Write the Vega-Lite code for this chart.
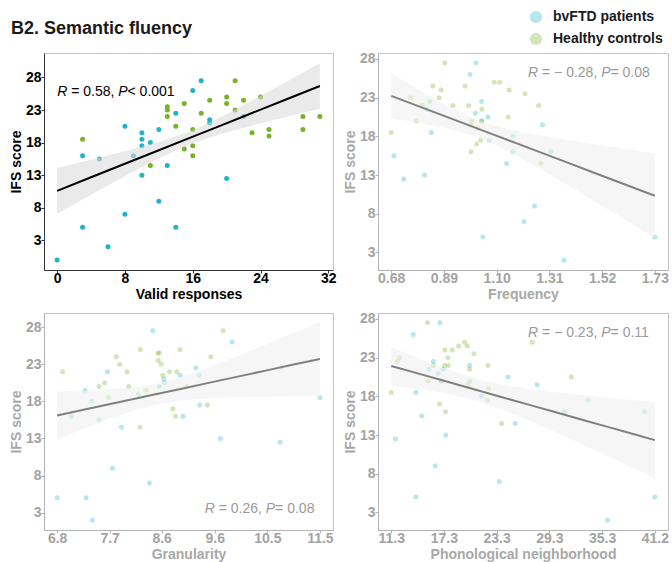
{
  "$schema": "https://vega.github.io/schema/vega-lite/v6.json",
  "padding": {"left": 8, "top": 10, "right": 0, "bottom": 0},
  "background": "white",
  "title": {"text": "B2. Semantic fluency", "anchor": "start", "frame": "bounds", "fontSize": 18, "fontWeight": "bold", "font": "Liberation Sans", "color": "#1a1a1a", "offset": -28, "dx": 2},
  "datasets": {
    "vr": [
      {"group": "bvFTD patients", "x": 0, "y": 0}, {"group": "bvFTD patients", "x": 3, "y": 5}, {"group": "bvFTD patients", "x": 3, "y": 16}, {"group": "bvFTD patients", "x": 5, "y": 15.5},
      {"group": "bvFTD patients", "x": 6, "y": 2}, {"group": "bvFTD patients", "x": 8, "y": 20.5}, {"group": "bvFTD patients", "x": 8, "y": 7}, {"group": "bvFTD patients", "x": 9, "y": 16},
      {"group": "bvFTD patients", "x": 10, "y": 19.5}, {"group": "bvFTD patients", "x": 10, "y": 18.5}, {"group": "bvFTD patients", "x": 10, "y": 17.5}, {"group": "bvFTD patients", "x": 10, "y": 13},
      {"group": "bvFTD patients", "x": 11, "y": 18}, {"group": "bvFTD patients", "x": 12, "y": 20}, {"group": "bvFTD patients", "x": 12, "y": 9}, {"group": "bvFTD patients", "x": 13, "y": 14.5},
      {"group": "bvFTD patients", "x": 14, "y": 22.5}, {"group": "bvFTD patients", "x": 14, "y": 5}, {"group": "bvFTD patients", "x": 16, "y": 26}, {"group": "bvFTD patients", "x": 17, "y": 27.5},
      {"group": "bvFTD patients", "x": 18, "y": 21.5}, {"group": "bvFTD patients", "x": 18, "y": 21}, {"group": "bvFTD patients", "x": 20, "y": 12.5}, {"group": "bvFTD patients", "x": 22, "y": 22},
      {"group": "Healthy controls", "x": 3, "y": 18.5}, {"group": "Healthy controls", "x": 11, "y": 14.5}, {"group": "Healthy controls", "x": 13, "y": 23.5}, {"group": "Healthy controls", "x": 13, "y": 23},
      {"group": "Healthy controls", "x": 13, "y": 22}, {"group": "Healthy controls", "x": 14, "y": 20.5}, {"group": "Healthy controls", "x": 15, "y": 24}, {"group": "Healthy controls", "x": 15, "y": 17},
      {"group": "Healthy controls", "x": 16, "y": 20}, {"group": "Healthy controls", "x": 16, "y": 17.5}, {"group": "Healthy controls", "x": 16, "y": 16}, {"group": "Healthy controls", "x": 17, "y": 22.5},
      {"group": "Healthy controls", "x": 18, "y": 24.5}, {"group": "Healthy controls", "x": 20, "y": 25}, {"group": "Healthy controls", "x": 20, "y": 24}, {"group": "Healthy controls", "x": 21, "y": 27.5},
      {"group": "Healthy controls", "x": 21, "y": 23}, {"group": "Healthy controls", "x": 22, "y": 24.5}, {"group": "Healthy controls", "x": 23, "y": 19.5}, {"group": "Healthy controls", "x": 24, "y": 25},
      {"group": "Healthy controls", "x": 25, "y": 20}, {"group": "Healthy controls", "x": 25, "y": 19}, {"group": "Healthy controls", "x": 29, "y": 22}, {"group": "Healthy controls", "x": 29, "y": 20},
      {"group": "Healthy controls", "x": 31, "y": 22}
    ],
    "vr_fit": [
      {"x": 0, "fit": 10.6, "lo": 7.1, "hi": 14.1}, {"x": 4, "fit": 12.68, "lo": 10.0, "hi": 15.36}, {"x": 8, "fit": 14.75, "lo": 12.84, "hi": 16.66},
      {"x": 12, "fit": 16.83, "lo": 15.58, "hi": 18.08}, {"x": 15.5, "fit": 18.64, "lo": 17.64, "hi": 19.64}, {"x": 19, "fit": 20.46, "lo": 19.21, "hi": 21.71},
      {"x": 23, "fit": 22.54, "lo": 20.63, "hi": 24.45}, {"x": 27, "fit": 24.61, "lo": 21.93, "hi": 27.29}, {"x": 31, "fit": 26.69, "lo": 23.19, "hi": 30.19}
    ],
    "fr": [
      {"group": "bvFTD patients", "x": 0.691, "y": 15.5}, {"group": "bvFTD patients", "x": 0.73, "y": 12.5}, {"group": "bvFTD patients", "x": 0.823, "y": 21.5}, {"group": "bvFTD patients", "x": 0.84, "y": 18.5},
      {"group": "bvFTD patients", "x": 0.813, "y": 13}, {"group": "bvFTD patients", "x": 0.994, "y": 26}, {"group": "bvFTD patients", "x": 1.018, "y": 27.5}, {"group": "bvFTD patients", "x": 1.015, "y": 21},
      {"group": "bvFTD patients", "x": 1.04, "y": 20}, {"group": "bvFTD patients", "x": 1.04, "y": 22.5}, {"group": "bvFTD patients", "x": 1.065, "y": 20.5}, {"group": "bvFTD patients", "x": 1.07, "y": 17.5},
      {"group": "bvFTD patients", "x": 1.045, "y": 5}, {"group": "bvFTD patients", "x": 1.165, "y": 18}, {"group": "bvFTD patients", "x": 1.165, "y": 16}, {"group": "bvFTD patients", "x": 1.14, "y": 14.5},
      {"group": "bvFTD patients", "x": 1.209, "y": 7}, {"group": "bvFTD patients", "x": 1.251, "y": 9}, {"group": "bvFTD patients", "x": 1.283, "y": 19.5}, {"group": "bvFTD patients", "x": 1.315, "y": 16},
      {"group": "bvFTD patients", "x": 1.368, "y": 2}, {"group": "bvFTD patients", "x": 1.73, "y": 5},
      {"group": "Healthy controls", "x": 0.68, "y": 18.5}, {"group": "Healthy controls", "x": 0.757, "y": 23}, {"group": "Healthy controls", "x": 0.78, "y": 20}, {"group": "Healthy controls", "x": 0.804, "y": 22},
      {"group": "Healthy controls", "x": 0.834, "y": 22.5}, {"group": "Healthy controls", "x": 0.846, "y": 24.5}, {"group": "Healthy controls", "x": 0.871, "y": 23}, {"group": "Healthy controls", "x": 0.879, "y": 24},
      {"group": "Healthy controls", "x": 0.894, "y": 27.5}, {"group": "Healthy controls", "x": 0.926, "y": 22}, {"group": "Healthy controls", "x": 0.974, "y": 24.5}, {"group": "Healthy controls", "x": 0.988, "y": 22},
      {"group": "Healthy controls", "x": 0.996, "y": 19.5}, {"group": "Healthy controls", "x": 1.002, "y": 20}, {"group": "Healthy controls", "x": 0.998, "y": 16}, {"group": "Healthy controls", "x": 1.02, "y": 17},
      {"group": "Healthy controls", "x": 1.036, "y": 17.5}, {"group": "Healthy controls", "x": 1.026, "y": 19}, {"group": "Healthy controls", "x": 1.04, "y": 20}, {"group": "Healthy controls", "x": 1.041, "y": 21.5},
      {"group": "Healthy controls", "x": 1.09, "y": 25}, {"group": "Healthy controls", "x": 1.112, "y": 25}, {"group": "Healthy controls", "x": 1.15, "y": 24}, {"group": "Healthy controls", "x": 1.146, "y": 20.5},
      {"group": "Healthy controls", "x": 1.213, "y": 23.5}, {"group": "Healthy controls", "x": 1.267, "y": 22}, {"group": "Healthy controls", "x": 1.275, "y": 14.5}
    ],
    "fr_fit": [
      {"x": 0.68, "fit": 23.24, "lo": 20.34, "hi": 26.14}, {"x": 0.78, "fit": 22.01, "lo": 19.8, "hi": 24.22}, {"x": 0.88, "fit": 20.78, "lo": 19.18, "hi": 22.38},
      {"x": 0.98, "fit": 19.55, "lo": 18.37, "hi": 20.73}, {"x": 1.03, "fit": 18.94, "lo": 17.83, "hi": 20.05}, {"x": 1.08, "fit": 18.32, "lo": 17.14, "hi": 19.5},
      {"x": 1.18, "fit": 17.09, "lo": 15.49, "hi": 18.69}, {"x": 1.28, "fit": 15.86, "lo": 13.65, "hi": 18.07}, {"x": 1.38, "fit": 14.63, "lo": 11.73, "hi": 17.53},
      {"x": 1.48, "fit": 13.4, "lo": 9.78, "hi": 17.02}, {"x": 1.58, "fit": 12.17, "lo": 7.82, "hi": 16.52}, {"x": 1.73, "fit": 10.33, "lo": 4.86, "hi": 15.8}
    ],
    "gr": [
      {"group": "bvFTD patients", "x": 6.77, "y": 5}, {"group": "bvFTD patients", "x": 7.02, "y": 16}, {"group": "bvFTD patients", "x": 7.27, "y": 19.5}, {"group": "bvFTD patients", "x": 7.29, "y": 5},
      {"group": "bvFTD patients", "x": 7.39, "y": 18}, {"group": "bvFTD patients", "x": 7.4, "y": 2}, {"group": "bvFTD patients", "x": 7.52, "y": 15.5}, {"group": "bvFTD patients", "x": 7.67, "y": 22},
      {"group": "bvFTD patients", "x": 7.76, "y": 9}, {"group": "bvFTD patients", "x": 7.92, "y": 14.5}, {"group": "bvFTD patients", "x": 8.42, "y": 7}, {"group": "bvFTD patients", "x": 8.48, "y": 27.5},
      {"group": "bvFTD patients", "x": 8.6, "y": 20}, {"group": "bvFTD patients", "x": 8.68, "y": 21}, {"group": "bvFTD patients", "x": 8.69, "y": 20.5}, {"group": "bvFTD patients", "x": 8.97, "y": 21.5},
      {"group": "bvFTD patients", "x": 9.02, "y": 16}, {"group": "bvFTD patients", "x": 9.25, "y": 22.5}, {"group": "bvFTD patients", "x": 9.31, "y": 21.5}, {"group": "bvFTD patients", "x": 9.32, "y": 17.5},
      {"group": "bvFTD patients", "x": 9.69, "y": 13}, {"group": "bvFTD patients", "x": 9.9, "y": 26}, {"group": "bvFTD patients", "x": 10.76, "y": 12.5}, {"group": "bvFTD patients", "x": 11.47, "y": 18.5},
      {"group": "Healthy controls", "x": 6.87, "y": 22}, {"group": "Healthy controls", "x": 7.52, "y": 20}, {"group": "Healthy controls", "x": 7.62, "y": 20.5}, {"group": "Healthy controls", "x": 7.69, "y": 18.5},
      {"group": "Healthy controls", "x": 7.83, "y": 24}, {"group": "Healthy controls", "x": 7.89, "y": 23}, {"group": "Healthy controls", "x": 8.02, "y": 22}, {"group": "Healthy controls", "x": 8.05, "y": 20},
      {"group": "Healthy controls", "x": 8.22, "y": 19}, {"group": "Healthy controls", "x": 8.25, "y": 14.5}, {"group": "Healthy controls", "x": 8.26, "y": 25}, {"group": "Healthy controls", "x": 8.36, "y": 19.5},
      {"group": "Healthy controls", "x": 8.57, "y": 24.5}, {"group": "Healthy controls", "x": 8.6, "y": 24.5}, {"group": "Healthy controls", "x": 8.58, "y": 23.5}, {"group": "Healthy controls", "x": 8.63, "y": 23},
      {"group": "Healthy controls", "x": 8.66, "y": 21.5}, {"group": "Healthy controls", "x": 8.78, "y": 22}, {"group": "Healthy controls", "x": 8.84, "y": 17}, {"group": "Healthy controls", "x": 8.89, "y": 16},
      {"group": "Healthy controls", "x": 8.91, "y": 22}, {"group": "Healthy controls", "x": 8.97, "y": 25}, {"group": "Healthy controls", "x": 9.08, "y": 20}, {"group": "Healthy controls", "x": 9.46, "y": 17.5},
      {"group": "Healthy controls", "x": 9.52, "y": 24}, {"group": "Healthy controls", "x": 9.74, "y": 27.5}, {"group": "Healthy controls", "x": 10.79, "y": 22.5}
    ],
    "gr_fit": [
      {"x": 6.77, "fit": 16.1, "lo": 12.85, "hi": 19.35}, {"x": 7.2, "fit": 16.8, "lo": 14.17, "hi": 19.43}, {"x": 7.7, "fit": 17.61, "lo": 15.63, "hi": 19.59},
      {"x": 8.2, "fit": 18.42, "lo": 16.91, "hi": 19.93}, {"x": 8.55, "fit": 18.98, "lo": 17.58, "hi": 20.38}, {"x": 9.0, "fit": 19.71, "lo": 18.13, "hi": 21.29},
      {"x": 9.5, "fit": 20.52, "lo": 18.42, "hi": 22.62}, {"x": 10.0, "fit": 21.33, "lo": 18.56, "hi": 24.1}, {"x": 10.5, "fit": 22.14, "lo": 18.64, "hi": 25.64},
      {"x": 11.0, "fit": 22.95, "lo": 18.68, "hi": 27.22}, {"x": 11.47, "fit": 23.71, "lo": 18.7, "hi": 28.72}
    ],
    "ph": [
      {"group": "bvFTD patients", "x": 11.79, "y": 12.5}, {"group": "bvFTD patients", "x": 13.8, "y": 26}, {"group": "bvFTD patients", "x": 14.1, "y": 18.5}, {"group": "bvFTD patients", "x": 14.1, "y": 5},
      {"group": "bvFTD patients", "x": 14.79, "y": 15.5}, {"group": "bvFTD patients", "x": 15.58, "y": 21.5}, {"group": "bvFTD patients", "x": 16.1, "y": 22.5}, {"group": "bvFTD patients", "x": 16.3, "y": 9},
      {"group": "bvFTD patients", "x": 16.64, "y": 21}, {"group": "bvFTD patients", "x": 16.84, "y": 27.5}, {"group": "bvFTD patients", "x": 16.99, "y": 20}, {"group": "bvFTD patients", "x": 17.21, "y": 21.5},
      {"group": "bvFTD patients", "x": 17.5, "y": 13}, {"group": "bvFTD patients", "x": 20.2, "y": 22}, {"group": "bvFTD patients", "x": 21.57, "y": 18}, {"group": "bvFTD patients", "x": 23.58, "y": 7},
      {"group": "bvFTD patients", "x": 24.57, "y": 20.5}, {"group": "bvFTD patients", "x": 25.4, "y": 14.5}, {"group": "bvFTD patients", "x": 27.87, "y": 19.5}, {"group": "bvFTD patients", "x": 31.01, "y": 16},
      {"group": "bvFTD patients", "x": 33.66, "y": 17.5}, {"group": "bvFTD patients", "x": 35.86, "y": 2}, {"group": "bvFTD patients", "x": 40.07, "y": 16}, {"group": "bvFTD patients", "x": 41.25, "y": 5},
      {"group": "Healthy controls", "x": 11.3, "y": 18.5}, {"group": "Healthy controls", "x": 11.98, "y": 22.5}, {"group": "Healthy controls", "x": 12.25, "y": 23}, {"group": "Healthy controls", "x": 15.43, "y": 27.5},
      {"group": "Healthy controls", "x": 15.5, "y": 20}, {"group": "Healthy controls", "x": 16.08, "y": 22}, {"group": "Healthy controls", "x": 16.8, "y": 17}, {"group": "Healthy controls", "x": 17.0, "y": 20},
      {"group": "Healthy controls", "x": 17.4, "y": 24}, {"group": "Healthy controls", "x": 17.36, "y": 22}, {"group": "Healthy controls", "x": 17.48, "y": 16}, {"group": "Healthy controls", "x": 17.74, "y": 23},
      {"group": "Healthy controls", "x": 17.78, "y": 22}, {"group": "Healthy controls", "x": 18.24, "y": 24}, {"group": "Healthy controls", "x": 18.96, "y": 24.5}, {"group": "Healthy controls", "x": 19.64, "y": 25},
      {"group": "Healthy controls", "x": 19.94, "y": 24.5}, {"group": "Healthy controls", "x": 20.02, "y": 19.5}, {"group": "Healthy controls", "x": 20.2, "y": 20}, {"group": "Healthy controls", "x": 20.2, "y": 21.5},
      {"group": "Healthy controls", "x": 20.7, "y": 23.5}, {"group": "Healthy controls", "x": 22.29, "y": 22}, {"group": "Healthy controls", "x": 22.37, "y": 19}, {"group": "Healthy controls", "x": 22.26, "y": 17.5},
      {"group": "Healthy controls", "x": 23.85, "y": 14.5}, {"group": "Healthy controls", "x": 27.33, "y": 25}, {"group": "Healthy controls", "x": 31.77, "y": 20.5}
    ],
    "ph_fit": [
      {"x": 11.3, "fit": 21.93, "lo": 19.4, "hi": 24.46}, {"x": 14, "fit": 21.07, "lo": 19.02, "hi": 23.12}, {"x": 17, "fit": 20.11, "lo": 18.49, "hi": 21.73},
      {"x": 20.5, "fit": 18.99, "lo": 17.58, "hi": 20.4}, {"x": 24, "fit": 17.86, "lo": 16.24, "hi": 19.48}, {"x": 27, "fit": 16.9, "lo": 14.85, "hi": 18.95},
      {"x": 30, "fit": 15.94, "lo": 13.35, "hi": 18.53}, {"x": 33, "fit": 14.98, "lo": 11.8, "hi": 18.16}, {"x": 36, "fit": 14.02, "lo": 10.21, "hi": 17.83},
      {"x": 39, "fit": 13.06, "lo": 8.61, "hi": 17.51}, {"x": 41.25, "fit": 12.34, "lo": 7.4, "hi": 17.28}
    ]
  },
  "columns": 2,
  "spacing": {"row": 43, "column": 45},
  "bounds": "flush",
  "resolve": {"scale": {"color": "shared"}, "legend": {"color": "shared"}},
  "concat": [
    {
      "width": 289, "height": 217,
      "layer": [
        {
          "data": {"name": "vr"},
          "mark": {"type": "circle", "size": 25, "opacity": 1},
          "encoding": {
            "x": {"field": "x", "type": "quantitative", "title": "Valid responses", "scale": {"domain": [-1.55, 32.55], "nice": false, "zero": false},
                  "axis": {"values": [0, 8, 16, 24, 32], "labelColor": "#000000", "titleColor": "#000000", "domainColor": "#333333", "tickColor": "#333333"}},
            "y": {"field": "y", "type": "quantitative", "title": "IFS score", "scale": {"domain": [-1.55, 31.75], "nice": false, "zero": false},
                  "axis": {"values": [3, 8, 13, 18, 23, 28], "labelColor": "#000000", "titleColor": "#000000", "domainColor": "#333333", "tickColor": "#333333"}},
            "color": {"field": "group", "type": "nominal",
                      "scale": {"domain": ["bvFTD patients", "Healthy controls"], "range": ["#1fb5c6", "#78b22b"]},
                      "legend": {"orient": "none", "legendX": 485, "legendY": -43, "title": null, "labelFontSize": 14, "labelFontWeight": "bold", "labelColor": "#1a1a1a", "labelFont": "Liberation Sans", "symbolSize": 150, "symbolType": "circle", "rowPadding": 8, "labelOffset": 10, "symbolOpacity": 1, "symbolStrokeWidth": 0}}
          }
        },
        {
          "data": {"name": "vr_fit"},
          "mark": {"type": "area", "color": "#d9d9d9", "opacity": 0.55},
          "encoding": {"x": {"field": "x", "type": "quantitative", "title": "Valid responses"}, "y": {"field": "lo", "type": "quantitative", "title": "IFS score"}, "y2": {"field": "hi"}}
        },
        {
          "data": {"name": "vr_fit"},
          "mark": {"type": "line", "color": "#000000", "strokeWidth": 2},
          "encoding": {"x": {"field": "x", "type": "quantitative", "title": "Valid responses"}, "y": {"field": "fit", "type": "quantitative", "title": "IFS score"}}
        },
        {"data": {"values": [{}]}, "mark": {"type": "text", "text": "R", "fontStyle": "italic", "align": "left", "baseline": "middle", "fontSize": 14, "color": "#000000"}, "encoding": {"x": {"datum": 0, "type": "quantitative"}, "y": {"datum": 25.8, "type": "quantitative"}}},
        {"data": {"values": [{}]}, "mark": {"type": "text", "text": "= 0.58,", "align": "left", "baseline": "middle", "fontSize": 14, "color": "#000000", "dx": 14.0}, "encoding": {"x": {"datum": 0, "type": "quantitative"}, "y": {"datum": 25.8, "type": "quantitative"}}},
        {"data": {"values": [{}]}, "mark": {"type": "text", "text": "P", "fontStyle": "italic", "align": "left", "baseline": "middle", "fontSize": 14, "color": "#000000", "dx": 61.1}, "encoding": {"x": {"datum": 0, "type": "quantitative"}, "y": {"datum": 25.8, "type": "quantitative"}}},
        {"data": {"values": [{}]}, "mark": {"type": "text", "text": "< 0.001", "align": "left", "baseline": "middle", "fontSize": 14, "color": "#000000", "dx": 70.4}, "encoding": {"x": {"datum": 0, "type": "quantitative"}, "y": {"datum": 25.8, "type": "quantitative"}}}
      ]
    },
    {
      "width": 290, "height": 217,
      "layer": [
        {
          "data": {"name": "fr"},
          "mark": {"type": "circle", "size": 25, "opacity": 0.33},
          "encoding": {
            "x": {"field": "x", "type": "quantitative", "title": "Frequency", "scale": {"domain": [0.6275, 1.7825], "nice": false, "zero": false},
                  "axis": {"values": [0.68, 0.89, 1.1, 1.31, 1.52, 1.73], "format": ".2f", "labelColor": "#a3a3a3", "titleColor": "#a8a8a8", "domainColor": "#b3b3b3", "tickColor": "#b3b3b3"}},
            "y": {"field": "y", "type": "quantitative", "title": "IFS score", "scale": {"domain": [0.725, 28.775], "nice": false, "zero": false},
                  "axis": {"values": [3, 8, 13, 18, 23, 28], "labelColor": "#a3a3a3", "titleColor": "#a8a8a8", "domainColor": "#b3b3b3", "tickColor": "#b3b3b3"}},
            "color": {"field": "group", "type": "nominal"}
          }
        },
        {
          "data": {"name": "fr_fit"},
          "mark": {"type": "area", "color": "#eeeeee", "opacity": 0.55},
          "encoding": {"x": {"field": "x", "type": "quantitative", "title": "Frequency"}, "y": {"field": "lo", "type": "quantitative", "title": "IFS score"}, "y2": {"field": "hi"}}
        },
        {
          "data": {"name": "fr_fit"},
          "mark": {"type": "line", "color": "#808080", "strokeWidth": 2},
          "encoding": {"x": {"field": "x", "type": "quantitative", "title": "Frequency"}, "y": {"field": "fit", "type": "quantitative", "title": "IFS score"}}
        },
        {"data": {"values": [{}]}, "mark": {"type": "text", "text": "R", "fontStyle": "italic", "align": "left", "baseline": "middle", "fontSize": 14, "color": "#9a9a9a"}, "encoding": {"x": {"datum": 1.225, "type": "quantitative"}, "y": {"datum": 26.2, "type": "quantitative"}}},
        {"data": {"values": [{}]}, "mark": {"type": "text", "text": "= − 0.28,", "align": "left", "baseline": "middle", "fontSize": 14, "color": "#9a9a9a", "dx": 14.0}, "encoding": {"x": {"datum": 1.225, "type": "quantitative"}, "y": {"datum": 26.2, "type": "quantitative"}}},
        {"data": {"values": [{}]}, "mark": {"type": "text", "text": "P", "fontStyle": "italic", "align": "left", "baseline": "middle", "fontSize": 14, "color": "#9a9a9a", "dx": 73.2}, "encoding": {"x": {"datum": 1.225, "type": "quantitative"}, "y": {"datum": 26.2, "type": "quantitative"}}},
        {"data": {"values": [{}]}, "mark": {"type": "text", "text": "= 0.08", "align": "left", "baseline": "middle", "fontSize": 14, "color": "#9a9a9a", "dx": 82.5}, "encoding": {"x": {"datum": 1.225, "type": "quantitative"}, "y": {"datum": 26.2, "type": "quantitative"}}}
      ]
    },
    {
      "width": 289, "height": 217,
      "layer": [
        {
          "data": {"name": "gr"},
          "mark": {"type": "circle", "size": 25, "opacity": 0.33},
          "encoding": {
            "x": {"field": "x", "type": "quantitative", "title": "Granularity", "scale": {"domain": [6.535, 11.705], "nice": false, "zero": false},
                  "axis": {"values": [6.77, 7.71, 8.64, 9.59, 10.53, 11.47], "format": ".1f", "labelColor": "#a3a3a3", "titleColor": "#a8a8a8", "domainColor": "#b3b3b3", "tickColor": "#b3b3b3"}},
            "y": {"field": "y", "type": "quantitative", "title": "IFS score", "scale": {"domain": [0.67, 29.9], "nice": false, "zero": false},
                  "axis": {"values": [3, 8, 13, 18, 23, 28], "labelColor": "#a3a3a3", "titleColor": "#a8a8a8", "domainColor": "#b3b3b3", "tickColor": "#b3b3b3"}},
            "color": {"field": "group", "type": "nominal"}
          }
        },
        {
          "data": {"name": "gr_fit"},
          "mark": {"type": "area", "color": "#eeeeee", "opacity": 0.55},
          "encoding": {"x": {"field": "x", "type": "quantitative", "title": "Granularity"}, "y": {"field": "lo", "type": "quantitative", "title": "IFS score"}, "y2": {"field": "hi"}}
        },
        {
          "data": {"name": "gr_fit"},
          "mark": {"type": "line", "color": "#808080", "strokeWidth": 2},
          "encoding": {"x": {"field": "x", "type": "quantitative", "title": "Granularity"}, "y": {"field": "fit", "type": "quantitative", "title": "IFS score"}}
        },
        {"data": {"values": [{}]}, "mark": {"type": "text", "text": "R", "fontStyle": "italic", "align": "left", "baseline": "middle", "fontSize": 14, "color": "#9a9a9a"}, "encoding": {"x": {"datum": 9.41, "type": "quantitative"}, "y": {"datum": 3.46, "type": "quantitative"}}},
        {"data": {"values": [{}]}, "mark": {"type": "text", "text": "= 0.26,", "align": "left", "baseline": "middle", "fontSize": 14, "color": "#9a9a9a", "dx": 14.0}, "encoding": {"x": {"datum": 9.41, "type": "quantitative"}, "y": {"datum": 3.46, "type": "quantitative"}}},
        {"data": {"values": [{}]}, "mark": {"type": "text", "text": "P", "fontStyle": "italic", "align": "left", "baseline": "middle", "fontSize": 14, "color": "#9a9a9a", "dx": 61.1}, "encoding": {"x": {"datum": 9.41, "type": "quantitative"}, "y": {"datum": 3.46, "type": "quantitative"}}},
        {"data": {"values": [{}]}, "mark": {"type": "text", "text": "= 0.08", "align": "left", "baseline": "middle", "fontSize": 14, "color": "#9a9a9a", "dx": 70.4}, "encoding": {"x": {"datum": 9.41, "type": "quantitative"}, "y": {"datum": 3.46, "type": "quantitative"}}}
      ]
    },
    {
      "width": 290, "height": 217,
      "layer": [
        {
          "data": {"name": "ph"},
          "mark": {"type": "circle", "size": 25, "opacity": 0.33},
          "encoding": {
            "x": {"field": "x", "type": "quantitative", "title": "Phonological neighborhood", "scale": {"domain": [9.8, 42.75], "nice": false, "zero": false},
                  "axis": {"values": [11.3, 17.29, 23.28, 29.27, 35.26, 41.25], "labelExpr": "datum.value > 41 ? '41.2' : format(datum.value, '.1f')", "labelColor": "#a3a3a3", "titleColor": "#a8a8a8", "domainColor": "#b3b3b3", "tickColor": "#b3b3b3"}},
            "y": {"field": "y", "type": "quantitative", "title": "IFS score", "scale": {"domain": [0.725, 28.775], "nice": false, "zero": false},
                  "axis": {"values": [3, 8, 13, 18, 23, 28], "labelColor": "#a3a3a3", "titleColor": "#a8a8a8", "domainColor": "#b3b3b3", "tickColor": "#b3b3b3"}},
            "color": {"field": "group", "type": "nominal"}
          }
        },
        {
          "data": {"name": "ph_fit"},
          "mark": {"type": "area", "color": "#eeeeee", "opacity": 0.55},
          "encoding": {"x": {"field": "x", "type": "quantitative", "title": "Phonological neighborhood"}, "y": {"field": "lo", "type": "quantitative", "title": "IFS score"}, "y2": {"field": "hi"}}
        },
        {
          "data": {"name": "ph_fit"},
          "mark": {"type": "line", "color": "#808080", "strokeWidth": 2},
          "encoding": {"x": {"field": "x", "type": "quantitative", "title": "Phonological neighborhood"}, "y": {"field": "fit", "type": "quantitative", "title": "IFS score"}}
        },
        {"data": {"values": [{}]}, "mark": {"type": "text", "text": "R", "fontStyle": "italic", "align": "left", "baseline": "middle", "fontSize": 14, "color": "#9a9a9a"}, "encoding": {"x": {"datum": 26.85, "type": "quantitative"}, "y": {"datum": 26.18, "type": "quantitative"}}},
        {"data": {"values": [{}]}, "mark": {"type": "text", "text": "= − 0.23,", "align": "left", "baseline": "middle", "fontSize": 14, "color": "#9a9a9a", "dx": 14.0}, "encoding": {"x": {"datum": 26.85, "type": "quantitative"}, "y": {"datum": 26.18, "type": "quantitative"}}},
        {"data": {"values": [{}]}, "mark": {"type": "text", "text": "P", "fontStyle": "italic", "align": "left", "baseline": "middle", "fontSize": 14, "color": "#9a9a9a", "dx": 73.2}, "encoding": {"x": {"datum": 26.85, "type": "quantitative"}, "y": {"datum": 26.18, "type": "quantitative"}}},
        {"data": {"values": [{}]}, "mark": {"type": "text", "text": "= 0.11", "align": "left", "baseline": "middle", "fontSize": 14, "color": "#9a9a9a", "dx": 82.5}, "encoding": {"x": {"datum": 26.85, "type": "quantitative"}, "y": {"datum": 26.18, "type": "quantitative"}}}
      ]
    }
  ],
  "config": {
    "font": "Liberation Sans",
    "view": {"stroke": "#c4c4c4", "strokeWidth": 1},
    "text": {"font": "Liberation Sans"},
    "axis": {"grid": false, "labelFont": "Liberation Sans", "titleFont": "Liberation Sans", "labelFontSize": 14, "labelFontWeight": "bold", "titleFontSize": 14, "titleFontWeight": "bold", "tickSize": 3, "titlePadding": 2, "domainWidth": 1, "labelFlush": false, "labelOverlap": false},
    "axisX": {"labelPadding": -2},
    "axisY": {"labelPadding": 0}
  }
}
